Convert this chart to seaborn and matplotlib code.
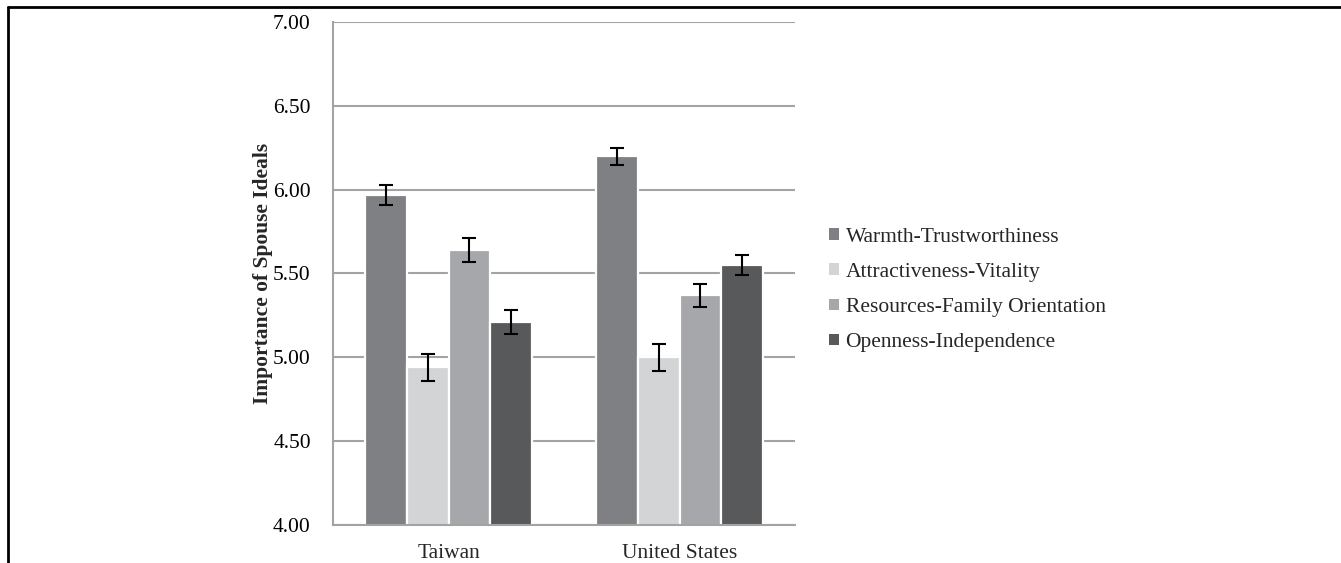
import matplotlib
matplotlib.use("Agg")
import matplotlib.pyplot as plt
import matplotlib.patches as mpatches
from matplotlib.lines import Line2D
import seaborn as sns
import pandas as pd
import numpy as np

# Mean importance ratings and standard errors by sample
countries = ["Taiwan", "United States"]
factors = ["Warmth-Trustworthiness", "Attractiveness-Vitality",
           "Resources-Family Orientation", "Openness-Independence"]
means_taiwan = [5.97, 4.94, 5.64, 5.21]
means_us = [6.20, 5.00, 5.37, 5.55]
err_taiwan = [0.06, 0.08, 0.07, 0.07]
err_us = [0.05, 0.08, 0.07, 0.06]
colors = ["#7f8084", "#d3d4d6", "#a6a7aa", "#58595b"]

y_ticks = [4.00, 4.50, 5.00, 5.50, 6.00, 6.50, 7.00]

df = pd.DataFrame({
    "country": np.repeat(countries, len(factors)),
    "factor": factors * len(countries),
    "mean": means_taiwan + means_us,
    "se": err_taiwan + err_us,
})

sns.set_theme(style="white")
plt.rcParams["font.family"] = ["Liberation Serif", "DejaVu Serif"]

W, H = 1341, 563
fig = plt.figure(figsize=(W / 100, H / 100), dpi=100)
ax = fig.add_axes([333 / W, 1 - 525 / H, (795 - 333) / W, (525 - 22) / H])

sns.barplot(data=df, x="country", y="mean", hue="factor", order=countries,
            hue_order=factors, palette=colors, errorbar=None, width=0.72,
            edgecolor="white", linewidth=1.6, saturation=1, legend=False, ax=ax)

# Standard-error whiskers on each bar centre (bars sorted left to right)
bars = [p for p in ax.patches if isinstance(p, mpatches.Rectangle) and p.get_height() > 0]
bars = sorted(bars, key=lambda p: p.get_x())
se_order = err_taiwan + err_us
for p, se in zip(bars, se_order):
    xc = p.get_x() + p.get_width() / 2
    ax.errorbar(xc, p.get_height(), yerr=se, fmt="none", ecolor="black",
                elinewidth=1.5, capsize=5, capthick=1.5, zorder=5)

ax.set_ylim(4.0, 7.0)
ax.set_xlim(-0.5, 1.5)
ax.set_yticks(y_ticks)
ax.set_yticklabels([f"{v:.2f}" for v in y_ticks], fontsize=15.5)
ax.yaxis.grid(True, color="#a3a3a3", linewidth=1.5)
ax.set_axisbelow(True)

# Category labels sit between boundary ticks
ax.set_xticks([-0.5, 0.5, 1.5])
ax.set_xticklabels(["", "", ""])
ax.set_xticks([0, 1], minor=True)
ax.set_xticklabels(countries, minor=True, fontsize=15.5)
ax.tick_params(axis="x", which="minor", length=0, pad=14)
ax.tick_params(axis="x", which="major", length=6, width=1.2, color="#a3a3a3", direction="out")
ax.tick_params(axis="y", length=6, width=1.2, color="#a3a3a3", direction="out", pad=10)
ax.tick_params(axis="both", labelcolor="black")

for side in ["top", "right"]:
    ax.spines[side].set_visible(False)
for side in ["left", "bottom"]:
    ax.spines[side].set_color("#a3a3a3")
    ax.spines[side].set_linewidth(1.5)

ax.set_xlabel("")
ax.set_ylabel("Importance of Spouse Ideals", fontsize=15.5, fontweight="bold", labelpad=0)

handles = [mpatches.Patch(facecolor=c, edgecolor="none", label=f) for c, f in zip(colors, factors)]
fig.legend(handles=handles, loc="center left", bbox_to_anchor=(810 / W, 1 - 290 / H),
           frameon=False, fontsize=15.5, handlelength=0.45, handleheight=0.45,
           handletextpad=0.3, labelspacing=0.75)

# Outer frame lines along the top and left edges
fig.add_artist(Line2D([8 / W, 1], [1 - 7 / H, 1 - 7 / H], transform=fig.transFigure,
                      color="black", linewidth=2))
fig.add_artist(Line2D([8 / W, 8 / W], [0, 1 - 7 / H], transform=fig.transFigure,
                      color="black", linewidth=2))

fig.savefig("out.png", dpi=100, facecolor="white")
